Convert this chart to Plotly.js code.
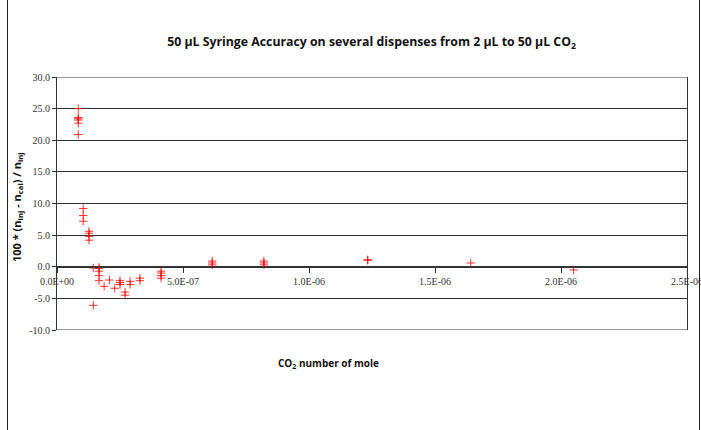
<!DOCTYPE html>
<html>
<head>
<meta charset="utf-8">
<script src="https://cdn.plot.ly/plotly-3.0.1.min.js"></script>
<style>html,body{margin:0;padding:0;background:#fff;}#chart{width:701px;height:430px;}</style>
</head>
<body>
<div id="chart"></div>
<script>
// CO2 number of mole (x) and relative deviation 100*(n_inj - n_cal)/n_inj (y)
var molesCO2 = [
  8.45e-8, 8.45e-8, 8.45e-8, 8.45e-8, 8.45e-8, 8.45e-8,
  1.04e-7, 1.04e-7, 1.04e-7,
  1.27e-7, 1.27e-7, 1.27e-7, 1.27e-7,
  1.44e-7, 1.44e-7,
  1.67e-7, 1.67e-7, 1.67e-7, 1.67e-7, 1.67e-7,
  1.87e-7,
  2.08e-7,
  2.29e-7,
  2.50e-7, 2.50e-7, 2.50e-7,
  2.70e-7, 2.70e-7,
  2.90e-7, 2.90e-7,
  3.29e-7, 3.29e-7,
  4.13e-7, 4.13e-7, 4.13e-7, 4.13e-7,
  6.16e-7, 6.16e-7, 6.16e-7,
  8.21e-7, 8.21e-7, 8.21e-7,
  1.233e-6, 1.233e-6,
  1.642e-6,
  2.05e-6
];
var deviation = [
  25.0, 23.6, 23.4, 23.2, 22.7, 20.9,
  9.2, 8.1, 7.2,
  5.6, 5.3, 4.8, 4.2,
  -0.2, -6.1,
  -0.1, -0.3, -0.7, -1.4, -2.2,
  -3.1,
  -2.1,
  -3.4,
  -2.2, -2.5, -2.8,
  -4.0, -4.5,
  -2.3, -2.8,
  -1.8, -2.2,
  -0.7, -1.0, -1.4, -1.8,
  0.9, 0.6, 0.3,
  0.9, 0.6, 0.3,
  1.1, 1.0,
  0.6,
  -0.5
];
var xTickVals = [0, 5e-7, 1e-6, 1.5e-6, 2e-6, 2.5e-6];
var xTickText = ['0.0E+00', '5.0E-07', '1.0E-06', '1.5E-06', '2.0E-06', '2.5E-06'];
var yTickVals = [-10, -5, 0, 5, 10, 15, 20, 25, 30];
var yTickText = ['-10.0', '-5.0', '0.0', '5.0', '10.0', '15.0', '20.0', '25.0', '30.0'];

var tickFont = {family: 'Liberation Serif, Times New Roman, serif', size: 10, color: '#333'};
var sansBold = 'Open Sans, Noto Sans, sans-serif';

var trace = {
  x: molesCO2, y: deviation, type: 'scatter', mode: 'markers',
  marker: {symbol: 'cross-thin', size: 6, color: '#ff0000', line: {color: 'rgba(255,0,0,0.8)', width: 1}},
  hoverinfo: 'x+y'
};

var layout = {
  width: 701, height: 430,
  margin: {l: 57, r: 14, t: 77, b: 100, pad: 0},
  paper_bgcolor: '#fff', plot_bgcolor: '#fff',
  showlegend: false,
  title: {
    text: '<b>50 µL Syringe Accuracy on several dispenses from 2 µL to 50 µL CO<sub>2</sub></b>',
    font: {family: sansBold, size: 12.3, color: '#111'},
    x: 0.53, xanchor: 'center', y: 1 - 42/430, yanchor: 'middle', yref: 'container'
  },
  xaxis: {
    range: [-1e-12, 2.500001e-6], anchor: 'free', position: 0.25,
    tickvals: xTickVals, ticktext: xTickText,
    ticks: 'outside', ticklen: 5, tickcolor: '#333',
    showline: true, linecolor: '#333', linewidth: 1,
    showgrid: false, zeroline: false,
    ticklabeloverflow: 'allow',
    tickfont: tickFont
  },
  yaxis: {
    range: [-10, 30],
    tickvals: yTickVals, ticktext: yTickText,
    ticks: 'outside', ticklen: 4, tickcolor: '#333',
    showline: true, mirror: true, linecolor: '#333', linewidth: 1,
    showgrid: true, gridcolor: '#333', gridwidth: 1, zeroline: false,
    tickfont: tickFont
  },
  annotations: [
    {text: '<b>100 * (n<sub>inj</sub> - n<sub>cal</sub>) / n<sub>inj</sub></b>',
     xref: 'paper', yref: 'paper', x: (17 - 57) / 630, y: (330 - 207) / 253, xanchor: 'center', yanchor: 'middle',
     textangle: -90, showarrow: false, font: {family: sansBold, size: 11, color: '#111'}},
    {text: '<b>CO<sub>2</sub> number of mole</b>',
     xref: 'paper', yref: 'paper', x: (328 - 57) / 630, y: (330 - 363) / 253, xanchor: 'center', yanchor: 'middle',
     showarrow: false, font: {family: sansBold, size: 10, color: '#111'}}
  ],
  shapes: [
    {type: 'line', xref: 'paper', yref: 'y', x0: 0, x1: 1, y0: 30, y1: 30, line: {color: '#333', width: 1}},
    {type: 'line', xref: 'paper', yref: 'y', x0: 0, x1: 1, y0: -10, y1: -10, line: {color: '#333', width: 1}},
    {type: 'line', xref: 'paper', yref: 'paper', x0: (7.5 - 57) / 630, x1: (7.5 - 57) / 630,
     y0: (330 - 430) / 253, y1: (330 - 0) / 253, line: {color: '#222', width: 1}},
    {type: 'line', xref: 'paper', yref: 'paper', x0: (699.5 - 57) / 630, x1: (699.5 - 57) / 630,
     y0: (330 - 430) / 253, y1: (330 - 0) / 253, line: {color: '#222', width: 1}}
  ]
};

Plotly.newPlot('chart', [trace], layout, {displayModeBar: false, staticPlot: true});
</script>
</body>
</html>
